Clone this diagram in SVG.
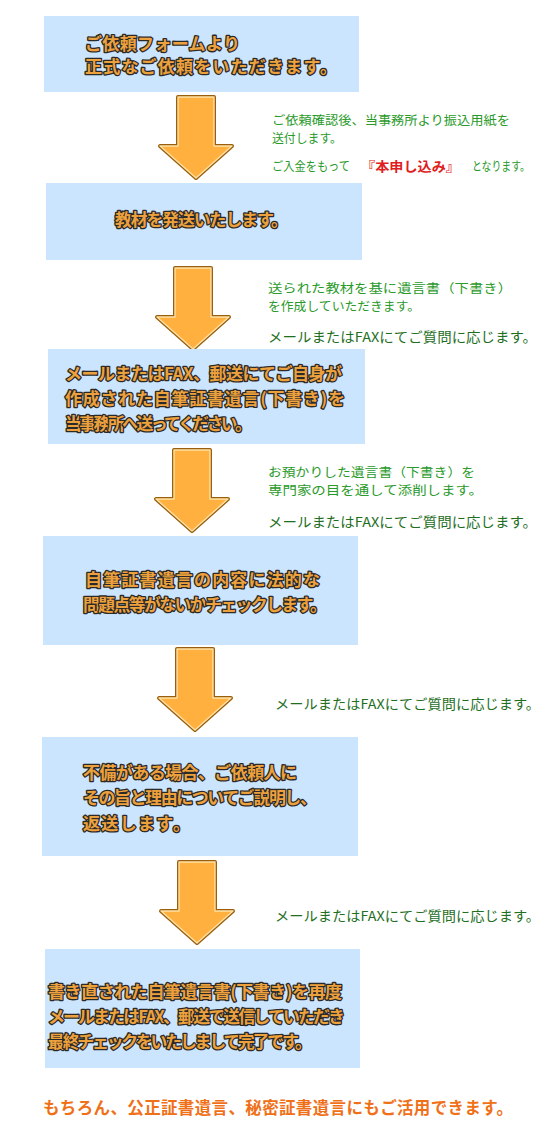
<svg xmlns="http://www.w3.org/2000/svg" width="560" height="1134" viewBox="0 0 560 1134">
<style>
.box{fill:#cce5fe}
.bt{font-family:"Noto Sans CJK JP","Noto Sans",sans-serif;font-weight:bold;font-size:17px;fill:#eda13c;stroke:#2a2a2a;stroke-width:2.6px;paint-order:stroke;stroke-linejoin:round}
.g{font-family:"Noto Sans CJK JP","Noto Sans",sans-serif;font-size:12.5px;fill:#2a9a2a}
.gd{font-family:"Noto Sans CJK JP","Noto Sans",sans-serif;font-size:13.5px;fill:#1f6f1f}
.red{font-family:"Noto Sans CJK JP","Noto Sans",sans-serif;font-size:13px;font-weight:bold;fill:#e02020}
.bottom{font-family:"Noto Sans CJK JP","Noto Sans",sans-serif;font-size:16.5px;font-weight:bold;fill:#f07018}
.aro{fill:none;stroke:#9a5f0c;stroke-width:4;stroke-linejoin:round}
.ari{fill:#ffb03e;stroke:#ffe2a6;stroke-width:1.4;stroke-linejoin:round}
</style>
<defs>
<path id="arw" d="M-18,0 H18 V49 H36 L0,81 L-36,49 H-18 Z"/>
</defs>
<rect width="560" height="1134" fill="#ffffff"/>
<g id="connectors">
<g transform="translate(196,97)"><use href="#arw" class="aro"/><use href="#arw" class="ari"/></g>
<g transform="translate(193,268)"><use href="#arw" class="aro"/><use href="#arw" class="ari"/></g>
<g transform="translate(192,450)"><use href="#arw" class="aro"/><use href="#arw" class="ari"/></g>
<g transform="translate(195,649)"><use href="#arw" class="aro"/><use href="#arw" class="ari"/></g>
<g transform="translate(197,862)"><use href="#arw" class="aro"/><use href="#arw" class="ari"/></g>
</g>
<g id="node1">
<rect class="box" x="44" y="16" width="315" height="76"/>
<text class="bt" x="85" y="50" textLength="155" lengthAdjust="spacing">ご依頼フォームより</text>
<text class="bt" x="85" y="73" textLength="252" lengthAdjust="spacing">正式なご依頼をいただきます。</text>
</g>
<g id="note1">
<text class="g" x="272" y="125" textLength="238" lengthAdjust="spacingAndGlyphs">ご依頼確認後、当事務所より振込用紙を</text>
<text class="g" x="272" y="143" textLength="70" lengthAdjust="spacingAndGlyphs">送付します。</text>
<text class="g" x="272" y="171" textLength="78" lengthAdjust="spacingAndGlyphs">ご入金をもって</text>
<text class="red" x="361" y="171" textLength="99" lengthAdjust="spacingAndGlyphs">『本申し込み』</text>
<text class="g" x="472" y="171" textLength="58" lengthAdjust="spacingAndGlyphs">となります。</text>
</g>
<g id="node2">
<rect class="box" x="46" y="183" width="316" height="77"/>
<text class="bt" x="115" y="226" textLength="173" lengthAdjust="spacing">教材を発送いたします。</text>
</g>
<g id="note2">
<text class="g" x="268" y="293" textLength="244" lengthAdjust="spacingAndGlyphs">送られた教材を基に遺言書（下書き）</text>
<text class="g" x="268" y="311" textLength="152" lengthAdjust="spacingAndGlyphs">を作成していただきます。</text>
<text class="gd" x="268" y="342" textLength="269" lengthAdjust="spacingAndGlyphs">メールまたはFAXにてご質問に応じます。</text>
</g>
<g id="node3">
<rect class="box" x="48" y="349" width="317" height="95"/>
<text class="bt" x="65" y="380" textLength="277" lengthAdjust="spacing">メールまたはFAX、郵送にてご自身が</text>
<text class="bt" x="65" y="405" textLength="280" lengthAdjust="spacing">作成された自筆証書遺言(下書き)を</text>
<text class="bt" x="65" y="430" textLength="187" lengthAdjust="spacing">当事務所へ送ってください。</text>
</g>
<g id="note3">
<text class="g" x="268" y="477" textLength="207" lengthAdjust="spacingAndGlyphs">お預かりした遺言書（下書き）を</text>
<text class="g" x="268" y="495" textLength="215" lengthAdjust="spacingAndGlyphs">専門家の目を通して添削します。</text>
<text class="gd" x="268" y="527" textLength="269" lengthAdjust="spacingAndGlyphs">メールまたはFAXにてご質問に応じます。</text>
</g>
<g id="node4">
<rect class="box" x="43" y="536" width="315" height="109"/>
<text class="bt" x="85" y="586" textLength="235" lengthAdjust="spacing">自筆証書遺言の内容に法的な</text>
<text class="bt" x="83" y="611" textLength="244" lengthAdjust="spacing">問題点等がないかチェックします。</text>
</g>
<g id="note4">
<text class="gd" x="275" y="709" textLength="265" lengthAdjust="spacingAndGlyphs">メールまたはFAXにてご質問に応じます。</text>
</g>
<g id="node5">
<rect class="box" x="42" y="737" width="316" height="119"/>
<text class="bt" x="83" y="779" textLength="214" lengthAdjust="spacing">不備がある場合、ご依頼人に</text>
<text class="bt" x="83" y="804" textLength="234" lengthAdjust="spacing">その旨と理由についてご説明し、</text>
<text class="bt" x="83" y="830" textLength="107" lengthAdjust="spacing">返送します。</text>
</g>
<g id="note5">
<text class="gd" x="275" y="921" textLength="265" lengthAdjust="spacingAndGlyphs">メールまたはFAXにてご質問に応じます。</text>
</g>
<g id="node6">
<rect class="box" x="45" y="949" width="315" height="119"/>
<text class="bt" x="48" y="998" textLength="294" lengthAdjust="spacing">書き直された自筆遺言書(下書き)を再度</text>
<text class="bt" x="48" y="1023" textLength="297" lengthAdjust="spacing">メールまたはFAX、郵送で送信していただき</text>
<text class="bt" x="48" y="1048" textLength="264" lengthAdjust="spacing">最終チェックをいたしまして完了です。</text>
</g>
<g id="footer">
<text class="bottom" x="43" y="1114" textLength="470" lengthAdjust="spacing">もちろん、公正証書遺言、秘密証書遺言にもご活用できます。</text>
</g>
</svg>
